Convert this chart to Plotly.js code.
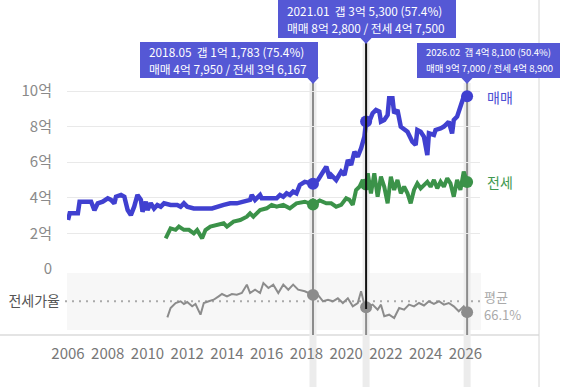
<!DOCTYPE html>
<html><head><meta charset="utf-8">
<script src="https://cdn.plot.ly/plotly-3.0.1.min.js"></script>
<style>html,body{margin:0;padding:0;background:#fff}#chart{width:566px;height:387px}</style>
</head><body><div id="chart"></div>
<script>
// ---------- data ----------
const saleDates = ['2006-01','2006-02','2006-07','2006-08','2007-03','2007-05','2007-07','2007-10','2008-01','2008-03','2008-05','2008-06','2008-09','2008-11','2009-01','2009-03','2009-05','2009-07','2009-09','2009-10','2009-12','2010-01','2010-03','2010-05','2010-07','2010-09','2010-11','2011-03','2011-07','2011-09','2011-11','2012-01','2012-05','2013-04','2013-11','2014-03','2014-07','2014-11','2015-03','2015-04','2015-06','2015-09','2015-10','2016-07','2016-09','2016-11','2017-01','2017-03','2017-05','2017-07','2017-09','2017-12','2018-03','2018-05','2018-08','2018-10','2019-01','2019-03','2019-04','2019-07','2019-10','2019-12','2020-02','2020-04','2020-06','2020-08','2020-10','2020-12','2021-01','2021-03','2021-05','2021-07','2021-09','2021-10','2021-12','2022-02','2022-03','2022-05','2022-06','2022-08','2022-10','2023-02','2023-05','2023-07','2023-08','2023-10','2023-12','2024-02','2024-03','2024-06','2024-07','2024-10','2024-12','2025-02','2025-03','2025-05','2025-06','2025-08','2025-10','2025-12','2026-02'];
const saleValues = [2.75,3.13,3.13,3.78,3.78,3.3,3.69,3.78,3.97,3.88,3.69,4.06,4.16,4.06,3.31,3.03,3.5,4.16,3.88,3.22,3.78,3.31,3.69,3.4,3.6,3.5,3.69,3.6,3.6,3.5,3.69,3.5,3.4,3.4,3.6,3.69,3.69,3.78,3.88,4.16,3.88,4.16,3.97,3.97,4.16,4.06,4.25,4.16,4.35,4.25,4.72,4.9,4.81,4.795,5.0,5.28,5.75,5.1,5.28,5.0,5.47,5.28,6.12,5.84,6.59,6.31,6.78,7.43,8.28,8.28,8.75,8.93,8.84,8.28,8.37,8.65,9.59,9.59,8.75,8.93,7.99,7.71,7.15,6.97,7.81,7.71,7.43,6.4,7.62,7.53,7.81,7.9,8.0,8.18,8.28,7.62,8.37,8.56,9.21,9.68,9.7];

const jeonseDates = ['2010-12','2011-03','2011-06','2011-08','2011-11','2012-02','2012-05','2012-07','2012-10','2012-12','2013-03','2013-07','2013-11','2014-01','2014-05','2014-09','2015-01','2015-03','2015-05','2015-09','2016-01','2016-04','2016-07','2016-11','2017-01','2017-03','2017-07','2017-12','2018-05','2018-09','2019-01','2019-04','2019-07','2019-10','2020-01','2020-03','2020-05','2020-07','2020-09','2020-11','2020-12','2021-01','2021-02','2021-04','2021-06','2021-08','2021-10','2021-12','2022-02','2022-04','2022-06','2022-08','2022-10','2022-12','2023-02','2023-04','2023-06','2023-08','2023-10','2023-12','2024-02','2024-04','2024-06','2024-08','2024-10','2024-12','2025-02','2025-04','2025-06','2025-08','2025-10','2025-12','2026-02'];
const jeonseValues = [1.72,2.28,2.2,2.38,2.2,2.2,2.0,2.19,1.72,2.19,2.38,2.47,2.57,2.38,2.66,2.75,2.94,3.13,2.94,3.31,3.41,3.6,3.5,3.6,3.5,3.41,3.69,3.78,3.6167,3.85,3.69,3.69,3.5,3.6,3.97,3.88,3.6,4.44,4.62,5.0,4.62,4.75,5.38,4.25,5.38,4.06,5.19,4.62,3.69,5.19,4.44,5.0,4.25,4.62,4.25,3.69,4.44,4.81,4.53,4.72,4.9,4.62,5.0,4.53,4.9,4.62,5.1,4.81,4.06,5.0,4.44,5.47,4.89];

const ratioDates = ['2011-01','2011-03','2011-06','2011-09','2011-11','2012-01','2012-04','2012-06','2012-09','2012-11','2013-02','2013-05','2013-08','2013-10','2014-01','2014-04','2014-07','2014-10','2015-01','2015-03','2015-06','2015-09','2015-11','2016-02','2016-05','2016-08','2016-11','2017-02','2017-05','2017-08','2017-12','2018-05','2018-08','2018-11','2019-02','2019-05','2019-08','2019-11','2020-02','2020-05','2020-08','2020-10','2020-12','2021-01','2021-05','2021-08','2021-10','2021-12','2022-03','2022-06','2022-09','2022-12','2023-03','2023-06','2023-09','2023-12','2024-03','2024-06','2024-09','2024-12','2025-03','2025-06','2025-09','2025-12','2026-02'];
const ratioValues = [42.9,56.4,63.6,66.1,62.2,65,58.8,62.2,46.7,63.6,66.1,68.4,73.3,76.7,73.3,76.7,75.7,78.1,90.2,78.1,82.9,78.1,92.6,85.4,90.2,78.1,90.2,82.9,90.2,82.9,80.6,75.4,75.4,66.1,68.4,66.1,70.4,63.6,70.4,58.8,63.6,80.6,61.2,57.4,61.2,53.9,61.2,44.4,46.7,41.9,56.4,53.9,61.2,58.8,63.6,60.0,66.1,62.2,66.1,61.2,63.6,58.8,51.6,58.8,50.4];

const avgRatio = 66.1;
const markDates = ['2018-05','2021-01','2026-02'];
const markSale = [4.795, 8.28, 9.7];
const markJeonse = [3.6167, 4.75, 4.89];
const markRatio = [75.4, 57.4, 50.4];
const boxLine1 = ['2018.05\u00a0 갭 1억 1,783 (75.4%)','2021.01\u00a0 갭 3억 5,300 (57.4%)','2026.02\u00a0 갭 4억 8,100 (50.4%)'];
const boxLine2 = ['매매 4억 7,950 / 전세 3억 6,167','매매 8억 2,800 / 전세 4억 7,500','매매 9억 7,000 / 전세 4억 8,900'];
const yTickVals = [0,2,4,6,8,10];
const yTickText = ['0','2억','4억','6억','8억','10억'];
const seriesNames = ['매매','전세','전세가율'];

// ---------- layout helpers (pixel -> paper) ----------
const W = 566, H = 387;
const px = x => x / W;
const py = y => 1 - y / H;
const FONT = '"Noto Sans CJK KR", "Noto Sans", sans-serif';
const BLUE = '#4040d0', GREEN = '#3b9249', GRAY = '#8c8c8c', BOX = '#5558d5';

const traces = [
  {x: ratioDates, y: ratioValues, xaxis:'x', yaxis:'y2', mode:'lines', line:{color:GRAY, width:2}, hoverinfo:'skip'},
  {x: jeonseDates, y: jeonseValues, mode:'lines', line:{color:GREEN, width:4}, hoverinfo:'skip'},
  {x: saleDates, y: saleValues, mode:'lines', line:{color:BLUE, width:4.5}, hoverinfo:'skip'},
  {x: markDates, y: markRatio, xaxis:'x', yaxis:'y2', mode:'markers', marker:{color:GRAY, size:12}, hoverinfo:'skip'},
  {x: markDates, y: markJeonse, mode:'markers', marker:{color:GREEN, size:12}, hoverinfo:'skip'},
  {x: markDates, y: markSale, mode:'markers', marker:{color:BLUE, size:12}, hoverinfo:'skip'}
];

// boxes (pixel rectangles), pointer tips, text starts
const boxes = [
  {x0:140, y0:42, x1:318, y1:78, tip:313, tx:148, l1:52, l2:68, fs:11.8},
  {x0:278, y0:0,  x1:456, y1:38, tip:366, tx:286, l1:10.5, l2:27, fs:11.8},
  {x0:417, y0:43, x1:560, y1:78, tip:467, tx:425, l1:52, l2:68, fs:9.5}
];

const shapes = [];
shapes.push({type:'rect', xref:'paper', yref:'paper', x0:px(67), x1:px(481), y0:py(330), y1:py(273), fillcolor:'#f7f7f7', line:{width:0}, layer:'below'});
shapes.push({type:'line', xref:'paper', yref:'paper', x0:0, x1:px(539), y0:py(335), y1:py(335), line:{color:'#e4e4e4', width:2}, layer:'below'});
shapes.push({type:'line', xref:'paper', yref:'paper', x0:px(539), x1:px(539), y0:0, y1:1, line:{color:'#d6d6d6', width:1}, layer:'below'});
shapes.push({type:'line', xref:'paper', yref:'y2', x0:px(65), x1:px(480), y0:avgRatio, y1:avgRatio, line:{color:'#aaaaaa', width:2, dash:'2px,5px'}, layer:'between'});
markDates.forEach((d, i) => {
  const b = boxes[i];
  const top = b.y1 + 5;
  shapes.push({type:'line', xref:'x', yref:'paper', x0:d, x1:d, y0:0, y1:py(top), line:{color:'#ececec', width:7}, layer:'between'});
  if (i === 1) {
    shapes.push({type:'line', xref:'x', yref:'paper', x0:d, x1:d, y0:py(335), y1:py(309), line:{color:GRAY, width:2}, layer:'between'});
    shapes.push({type:'line', xref:'x', yref:'paper', x0:d, x1:d, y0:py(309), y1:py(top), line:{color:'#111', width:2}, layer:'above'});
  } else {
    shapes.push({type:'line', xref:'x', yref:'paper', x0:d, x1:d, y0:py(335), y1:py(top), line:{color:GRAY, width:2}, layer:'between'});
  }
});
boxes.forEach(b => {
  shapes.push({type:'rect', xref:'paper', yref:'paper', x0:px(b.x0), x1:px(b.x1), y0:py(b.y1), y1:py(b.y0), fillcolor:BOX, line:{width:0}, layer:'above'});
  shapes.push({type:'path', xref:'paper', yref:'paper', path:`M ${px(b.tip-6)},${py(b.y1-0.5)} L ${px(b.tip+6)},${py(b.y1-0.5)} L ${px(b.tip)},${py(b.y1+6)} Z`, fillcolor:BOX, line:{width:0}, layer:'above'});
});

const annotations = [];
boxes.forEach((b, i) => {
  annotations.push({xref:'paper', yref:'paper', x:px(b.tx), y:py(b.l1), xanchor:'left', yanchor:'middle', showarrow:false, text:boxLine1[i], font:{family:FONT, size:b.fs, color:'#ffffff'}, borderpad:0});
  annotations.push({xref:'paper', yref:'paper', x:px(b.tx), y:py(b.l2), xanchor:'left', yanchor:'middle', showarrow:false, text:boxLine2[i], font:{family:FONT, size:b.fs, color:'#ffffff'}, borderpad:0});
});
annotations.push({xref:'paper', yref:'paper', x:px(486), y:py(97), xanchor:'left', yanchor:'middle', showarrow:false, text:seriesNames[0], font:{family:FONT, size:14, color:'#4c4fd4'}, borderpad:0});
annotations.push({xref:'paper', yref:'paper', x:px(486), y:py(182), xanchor:'left', yanchor:'middle', showarrow:false, text:seriesNames[1], font:{family:FONT, size:14, color:'#3f9950'}, borderpad:0});
annotations.push({xref:'paper', yref:'paper', x:px(483), y:py(296), xanchor:'left', yanchor:'middle', showarrow:false, text:'평균', font:{family:FONT, size:13, color:'#aaaaaa'}, borderpad:0});
annotations.push({xref:'paper', yref:'paper', x:px(483), y:py(314), xanchor:'left', yanchor:'middle', showarrow:false, text:avgRatio.toFixed(1)+'%', font:{family:FONT, size:13, color:'#aaaaaa'}, borderpad:0});

const layout = {
  width: W, height: H,
  margin: {l:0, r:0, t:0, b:0},
  paper_bgcolor:'#ffffff', plot_bgcolor:'rgba(0,0,0,0)',
  showlegend:false,
  font:{family:FONT},
  xaxis: {
    type:'date', domain:[px(67), px(480)], range:['2005-12-13','2026-09-26'],
    anchor:'free', position:py(335),
    tick0:'2006-01-01', dtick:'M24', tickformat:'%Y',
    showgrid:false, zeroline:false, showline:false, ticks:'',
    tickfont:{family:FONT, size:15, color:'#777777'}, ticklabelstandoff:8
  },
  yaxis: {
    domain:[py(269), py(73)], range:[0, 11.011], anchor:'x',
    tickvals:yTickVals, ticktext:yTickText,
    showgrid:true, gridcolor:'#e9e9e9', gridwidth:1, zeroline:false, showline:false, ticks:'',
    tickfont:{family:FONT, size:15, color:'#8a8a8a'}, ticklabelstandoff:14
  },
  yaxis2: {
    domain:[py(330), py(273)], range:[24.5, 107.1], anchor:'x',
    tickvals:[avgRatio], ticktext:[seriesNames[2]],
    showgrid:false, zeroline:false, showline:false, ticks:'',
    tickfont:{family:FONT, size:14, color:'#555555'}, ticklabelstandoff:6
  },
  shapes: shapes,
  annotations: annotations
};

Plotly.newPlot('chart', traces, layout, {staticPlot:true, displayModeBar:false});
</script>
</body></html>
